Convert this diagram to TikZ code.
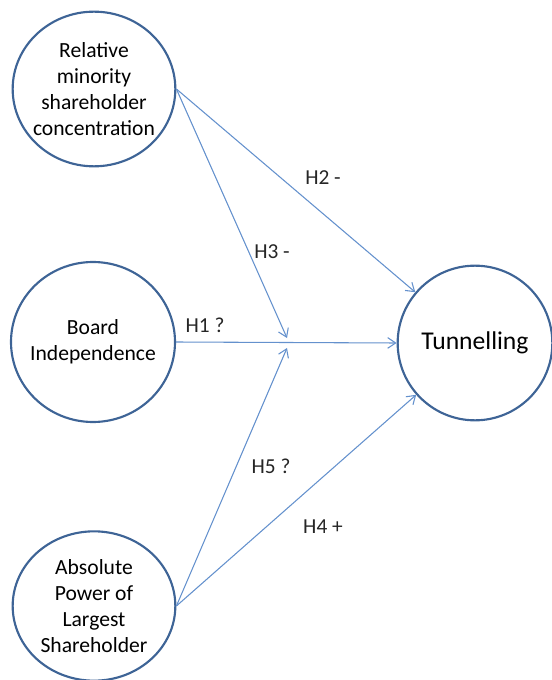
\documentclass[tikz,border=0pt]{standalone}
\usepackage{fontspec}
\setmainfont{Carlito}
\usetikzlibrary{shapes.geometric,arrows.meta}
\definecolor{ringblue}{RGB}{62,100,150}
\definecolor{linkblue}{RGB}{100,145,205}
\tikzset{
  var/.style={draw=ringblue, line width=1.6pt, ellipse, inner sep=0pt,
    minimum width=122pt, minimum height=116pt, align=center,
    font=\fontsize{16.2}{19.5}\selectfont},
  link/.style={draw=linkblue, line width=0.8pt, -{Straight Barb[length=6pt,width=8pt]}},
  hyp/.style={font=\fontsize{16}{18}\selectfont, text=black!85}
}
\begin{document}
\begin{tikzpicture}[x=0.75pt,y=-0.75pt]
      \useasboundingbox (0,0) rectangle (551,680);
      \draw
        (94,89) node[var, inner xsep=-4.5pt] (rel){Relative\\minority\\shareholder\\concentration}
        (93,342) node[var, inner xsep=-4pt, minimum width=123pt, minimum height=120pt] (ind){Board\\Independence}
        (94,606) node[var, inner xsep=-2pt, minimum height=112pt] (pow){Absolute\\Power of\\Largest\\Shareholder}
        (475,343) node[var, minimum width=116pt, minimum height=116pt,
          font=\fontsize{19.2}{22}\selectfont] (tun){Tunnelling};
      \coordinate (h3end) at (287,338);
      \coordinate (h5end) at (287,348);
      \begin{scope}[link]
        \draw (rel.east) to (tun);
        \draw (rel.east) to (h3end);
        \draw (ind.east) to (tun.west);
        \draw (pow.east) to (h5end);
        \draw (pow.east) to (tun);
      \end{scope}
      \node[hyp] (h2) at (323,178) {H2 -};
      \node[hyp] (h3) at (272,252) {H3 -};
      \node[hyp] (h1) at (205,325) {H1 ?};
      \node[hyp] (h5) at (271,466) {H5 ?};
      \node[hyp] (h4) at (323,527) {H4 +};
    \end{tikzpicture}
\end{document}
